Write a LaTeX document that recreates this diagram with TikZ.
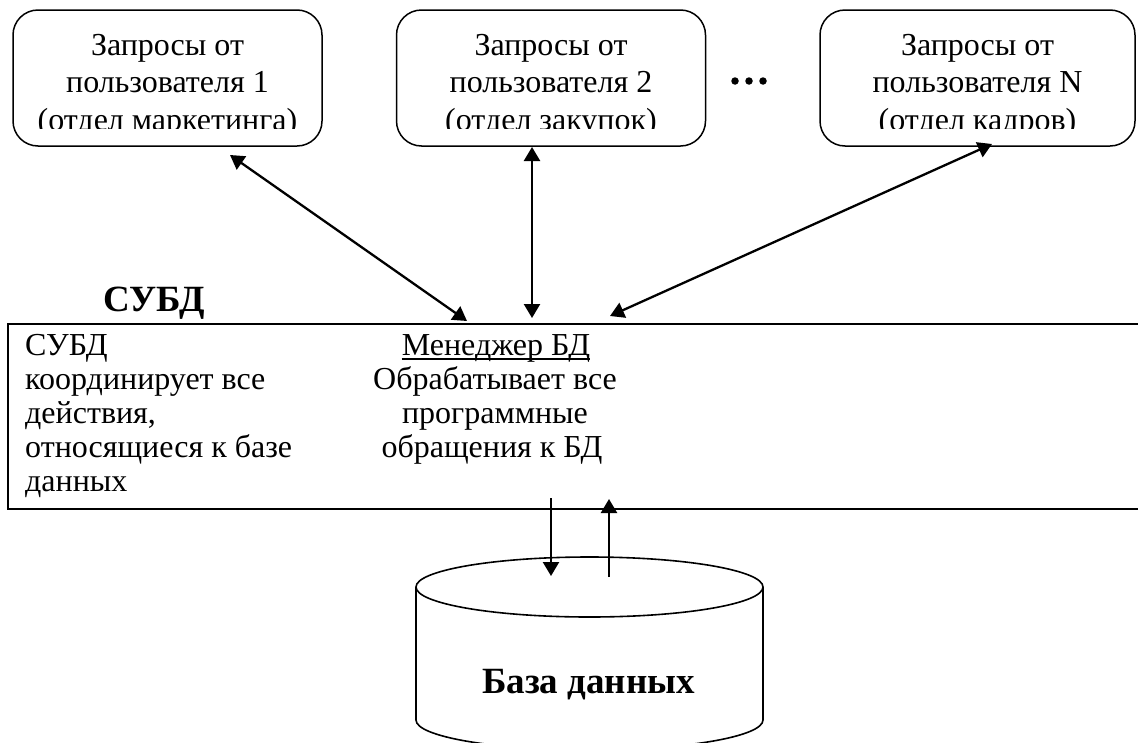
\documentclass[tikz,border=0pt]{standalone}
\usepackage{fontspec}
\setmainfont{Liberation Serif}
\usetikzlibrary{arrows.meta}
\begin{document}
\begin{tikzpicture}[x=1pt,y=-1pt,
  userbox/.style={draw, line width=1.5pt, rounded corners=25pt, minimum height=136pt, inner sep=0pt},
  boxtext/.style={anchor=base, inner sep=0pt, font=\fontsize{32}{38}\selectfont},
  celltext/.style={anchor=base west, inner sep=0pt, font=\fontsize{32}{38}\selectfont},
  midtext/.style={anchor=base, inner sep=0pt, font=\fontsize{32}{38}\selectfont},
  boldlabel/.style={inner sep=0pt, font=\fontsize{37}{42}\selectfont\bfseries},
  link/.style={line width=2.3pt, {Triangle[length=14pt,width=16pt]}-{Triangle[length=14pt,width=16pt]}},
  flow/.style={line width=2.3pt, -{Triangle[length=14pt,width=16pt]}},
  dot/.style={circle, fill, inner sep=0pt, minimum size=7.5pt},
]
\useasboundingbox (0,0) rectangle (1138,742);
\begin{scope}
\clip (0,0) rectangle (1138,742);

% user request boxes
\node[userbox, minimum width=309pt] (u1) at (167.5,78) {};
\node[userbox, minimum width=309pt] (u2) at (551,78) {};
\node[userbox, minimum width=315pt] (u3) at (977.5,78) {};

% box captions (last line is cut off by the box margin)
\begin{scope}
\clip (0,0) rectangle (1138,128);
\node[boxtext] (u1a) at (167.5,55) {Запросы от};
\node[boxtext] (u1b) at (167.5,92.5) {пользователя 1};
\node[boxtext] (u1c) at (167.5,130) {(отдел маркетинга)};
\node[boxtext] (u2a) at (551,55) {Запросы от};
\node[boxtext] (u2b) at (551,92.5) {пользователя 2};
\node[boxtext] (u2c) at (551,130) {(отдел закупок)};
\node[boxtext] (u3a) at (977.5,55) {Запросы от};
\node[boxtext] (u3b) at (977.5,92.5) {пользователя N};
\node[boxtext] (u3c) at (977.5,130) {(отдел кадров)};
\end{scope}

% ellipsis between the boxes
\node[dot] (d1) at (735,81) {};
\node[dot] (d2) at (749,81) {};
\node[dot] (d3) at (763,81) {};

% DBMS block
\node[boldlabel, anchor=base west] (title) at (103,311) {СУБД};
\node[draw, line width=2pt, anchor=north west, inner sep=0pt,
      minimum width=1160pt, minimum height=185pt] (dbms) at (7,323) {};

\node[celltext] (l1) at (25,355) {СУБД};
\node[celltext] (l2) at (25,389) {координирует все};
\node[celltext] (l3) at (25,423) {действия,};
\node[celltext] (l4) at (25,457) {относящиеся к базе};
\node[celltext] (l5) at (25,491) {данных};

\node[midtext] (m1) at (496,355) {Менеджер БД};
\draw[line width=1.5pt] ([yshift=-4pt]m1.base west) -- ([yshift=-4pt]m1.base east);
\node[midtext] (m2) at (495,389) {Обрабатывает все};
\node[midtext] (m3) at (495,423) {программные};
\node[midtext] (m4) at (492,457) {обращения к БД};

% database cylinder
\draw[line width=1.6pt] (416,587) -- (416,720)
  arc[start angle=180, end angle=360, x radius=173.5pt, y radius=30pt]
  -- (763,587);
\draw[line width=1.6pt] (589.5,587) ellipse[x radius=173.5pt, y radius=30pt];
\node[boldlabel, anchor=base] (db) at (588.5,693) {База данных};

% connector end points
\coordinate (a1u) at (230,155);
\coordinate (a1d) at (467,321);
\coordinate (a2u) at (532,147);
\coordinate (a2d) at (532,318);
\coordinate (a3u) at (992,144);
\coordinate (a3d) at (610,316);
\coordinate (qs) at (551,498);
\coordinate (qe) at (551,576);
\coordinate (rs) at (609,577);
\coordinate (re) at (609,499);

\draw[link] (a1u) -- (a1d);
\draw[link] (a2u) -- (a2d);
\draw[link] (a3u) -- (a3d);
\draw[flow] (qs) -- (qe);
\draw[flow] (rs) -- (re);
\end{scope}
\end{tikzpicture}
\end{document}
